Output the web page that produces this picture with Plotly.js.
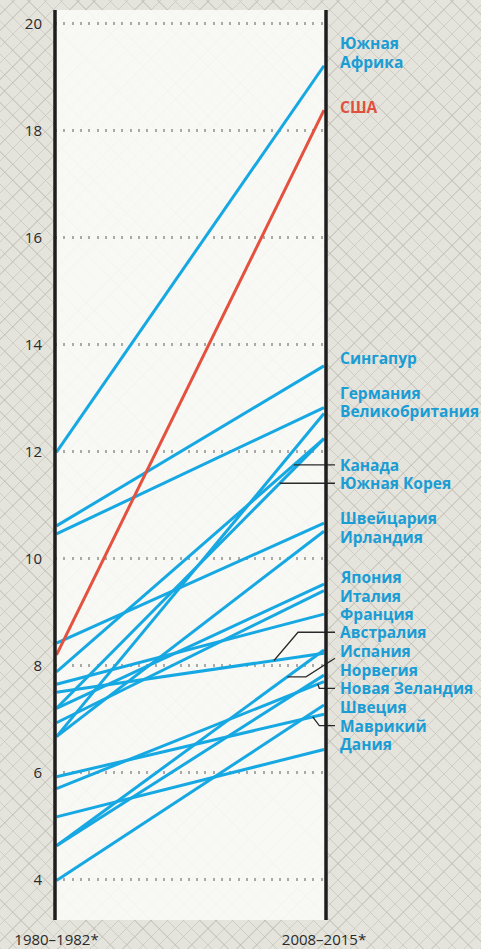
<!DOCTYPE html>
<html><head><meta charset="utf-8">
<script src="https://cdn.plot.ly/plotly-3.0.1.min.js"></script>
<style>
html,body{margin:0;padding:0;width:481px;height:949px;overflow:hidden;
background-color:#e4e3dc;
background-image:repeating-linear-gradient(45deg, rgba(186,184,174,0.5) 0 1px, transparent 1px 11.5px),
repeating-linear-gradient(-45deg, rgba(186,184,174,0.5) 0 1px, transparent 1px 11.5px);}
#chart{width:481px;height:949px;}
</style></head><body><div id="chart"></div>
<script>
// ---- data ----
const periods = ['1980–1982*', '2008–2015*'];
const countries = ['Южная Африка','США','Сингапур','Германия','Великобритания','Канада','Южная Корея',
  'Швейцария','Ирландия','Япония','Италия','Франция','Австралия','Испания','Норвегия',
  'Новая Зеландия','Швеция','Маврикий','Дания'];
const valuesStart = [11.99, 8.20, 10.61, 10.46, 6.67, 7.88, 7.20, 8.42, 6.67, 7.20, 6.93, 7.65, 7.50, 4.63, 4.63, 5.70, 3.98, 5.92, 5.17];
const valuesEnd   = [19.21, 18.38, 13.60, 12.82, 12.71, 12.24, 12.24, 10.66, 10.51, 9.52, 9.40, 8.96, 8.23, 8.29, 7.82, 7.70, 7.26, 7.09, 6.43];
const yTickVals = [4, 6, 8, 10, 12, 14, 16, 18, 20];

// ---- layout config (label lines and their vertical positions) ----
const labelLines = ['Южная','Африка','США','Сингапур','Германия','Великобритания','Канада','Южная Корея',
  'Швейцария','Ирландия','Япония','Италия','Франция','Австралия','Испания','Норвегия','Новая Зеландия',
  'Швеция','Маврикий','Дания'];
const labelY = [19.63, 19.275, 18.434, 13.742, 13.099, 12.763, 11.748, 11.406, 10.751, 10.402,
  9.66, 9.305, 8.957, 8.621, 8.271, 7.916, 7.574, 7.219, 6.875, 6.527];

const BLUE = '#16a8e2', RED = '#e4513f', TXT_BLUE = '#1a9dd4', TXT_RED = '#e0503f';
const highlight = 'США';

const xRange = [-0.0056, 1.0075];
const yRange = [3.243, 20.252];
const toPaper = t => (t - xRange[0]) / (xRange[1] - xRange[0]);
const lineAt = (name, t) => { const i = countries.indexOf(name); return valuesStart[i] + (valuesEnd[i] - valuesStart[i]) * t; };
const tAtY = (name, y) => { const i = countries.indexOf(name); return (y - valuesStart[i]) / (valuesEnd[i] - valuesStart[i]); };
const pxToT = px => (px - 56.5) / 267.5;
const pxToPaper = px => (px - 55) / 271;

const traces = countries.map((c, i) => ({
  type: 'scatter', mode: 'lines', x: [0, 1], y: [valuesStart[i], valuesEnd[i]],
  line: {color: c === highlight ? RED : BLUE, width: 3}, hoverinfo: 'skip', showlegend: false, name: c
}));
traces.sort((a, b) => (a.name === highlight) - (b.name === highlight));

const annotations = labelLines.map((txt, i) => ({
  xref: 'paper', yref: 'y', x: pxToPaper(339), y: labelY[i], xanchor: 'left', yanchor: 'middle',
  text: txt, showarrow: false, borderpad: 0,
  font: {family: '"Open Sans", sans-serif', size: 15.5, color: txt === highlight ? TXT_RED : TXT_BLUE, weight: 700}
}));

const PT = '#2a2a2a';
const lblX = pxToPaper(335);
const P = (x, y) => x + ',' + y;
function path(pts) { return 'M' + pts.map(p => P(p[0], p[1])).join('L'); }
const shapes = [];
function pointer(pts) { shapes.push({type: 'path', xref: 'paper', yref: 'y', path: path(pts), line: {color: PT, width: 1.3}, layer: 'above'}); }
['Канада', 'Южная Корея'].forEach(c => {
  const y = labelY[labelLines.indexOf(c)];
  pointer([[toPaper(tAtY(c, y)), y], [lblX, y]]);
});
(function(){
  const y = labelY[labelLines.indexOf('Австралия')];
  const t = pxToT(274);
  pointer([[lblX, y], [pxToPaper(298), y], [toPaper(t), lineAt('Австралия', t)]]);
})();
(function(){
  const t = pxToT(287.3), yl = lineAt('Испания', t);
  const y0 = labelY[labelLines.indexOf('Испания')] - 0.136;
  pointer([[lblX, y0], [pxToPaper(306), yl], [toPaper(t), yl]]);
})();
(function(){
  const y = labelY[labelLines.indexOf('Новая Зеландия')];
  const t = pxToT(317.7);
  pointer([[lblX, y], [pxToPaper(319.3), y], [toPaper(t), lineAt('Новая Зеландия', t)]]);
})();
(function(){
  const y = labelY[labelLines.indexOf('Маврикий')];
  const t = pxToT(312.7);
  pointer([[lblX, y], [pxToPaper(319.3), y], [toPaper(t), lineAt('Маврикий', t)]]);
})();
shapes.push({type: 'line', xref: 'paper', yref: 'paper', x0: 0, x1: 0, y0: 0, y1: 1, line: {color: '#1e1e1e', width: 3.5}, layer: 'above'});
shapes.push({type: 'line', xref: 'paper', yref: 'paper', x0: 1, x1: 1, y0: 0, y1: 1, line: {color: '#1e1e1e', width: 3.5}, layer: 'above'});

const layout = {
  width: 481, height: 949,
  margin: {l: 55, r: 155, t: 10, b: 29},
  paper_bgcolor: 'rgba(0,0,0,0)',
  plot_bgcolor: 'rgba(250,250,248,0.88)',
  showlegend: false,
  xaxis: {range: xRange, tickvals: [0, 1], ticktext: periods, showgrid: false, zeroline: false, showline: false,
    ticks: '', ticklabelstandoff: 9, fixedrange: true,
    tickfont: {family: '"Open Sans", sans-serif', size: 15, color: PT}},
  yaxis: {range: yRange, tickvals: yTickVals, showgrid: true, gridcolor: '#a9a9a6', gridwidth: 2.2,
    griddash: '2px,6.3px', zeroline: false, showline: false, ticks: '', ticklabelstandoff: 12, fixedrange: true,
    tickfont: {family: '"Open Sans", sans-serif', size: 15, color: PT}},
  annotations: annotations,
  shapes: shapes
};
Plotly.newPlot('chart', traces, layout, {staticPlot: true, displayModeBar: false});
</script></body></html>
